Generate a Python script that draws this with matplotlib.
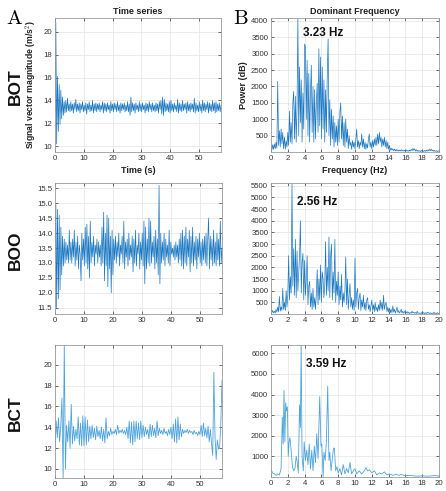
import numpy as np
import matplotlib
matplotlib.use("Agg")
import matplotlib.pyplot as plt

plt.rcParams['font.family'] = ['Liberation Sans', 'DejaVu Sans']
plt.rcParams['mathtext.fontset'] = 'cm'

# ---------------- data ----------------
row_labels = ["BOT", "BOO", "BCT"]
peak_labels = ["3.23 Hz", "2.56 Hz", "3.59 Hz"]

bot_time_vals = [
    13.0, 20.8, 10.2, 16.1, 11.3, 15.4, 11.9, 14.9, 12.4, 14.3, 12.7, 13.9, 12.9, 14.0, 13.0, 14.2, 13.1, 13.7, 13.0, 13.9,
    13.1, 13.7, 12.9, 13.8, 13.2, 14.1, 13.0, 13.7, 13.1, 13.8, 12.9, 13.7, 13.2, 13.9, 13.0, 13.6, 13.1, 13.8, 12.8, 13.7,
    13.2, 13.9, 13.0, 13.6, 13.1, 14.0, 12.9, 13.7, 13.1, 13.8, 13.0, 13.7, 13.2, 13.8, 13.0, 13.6, 13.2, 13.9, 12.9, 13.8,
    13.1, 13.7, 13.0, 13.8, 13.2, 13.6, 12.9, 13.9, 13.1, 13.7, 13.0, 13.8, 13.2, 13.7, 13.0, 13.9, 13.1, 13.6, 12.9, 13.8,
    13.1, 13.7, 13.2, 13.8, 13.0, 13.6, 13.1, 13.9, 13.0, 13.7, 12.7, 14.3, 13.0, 13.8, 13.1, 13.7, 12.9, 13.8, 13.2, 13.6,
    13.0, 13.9, 13.1, 13.7, 13.0, 13.8, 13.2, 13.6, 12.9, 13.8, 13.1, 13.7, 13.0, 13.9, 13.2, 13.7, 13.0, 13.8, 13.1, 13.6,
    13.0, 13.8, 13.1, 13.7, 12.9, 13.9, 13.2, 14.0, 12.8, 14.3, 12.7, 14.1, 13.0, 13.8, 13.1, 13.7, 13.0, 13.9, 12.9, 14.0,
    13.1, 13.7, 13.0, 13.8, 13.2, 13.6, 13.0, 14.1, 12.9, 13.8, 13.1, 13.7, 13.0, 14.0, 13.1, 13.7, 13.2, 13.8, 12.9, 13.9,
    13.1, 13.7, 13.0, 13.8, 13.2, 13.7, 13.0, 14.2, 12.9, 13.8, 13.1, 13.6, 13.0, 13.9, 13.1, 13.7, 12.9, 14.0, 13.1, 13.8,
    13.0, 13.7, 13.2, 13.9, 12.9, 13.8, 13.1, 13.7, 13.0, 14.0, 13.1, 13.8, 12.9, 13.9, 13.0, 13.7, 13.1, 13.8, 13.0, 13.6,
]

boo_time_vals = [
    13.2, 15.0, 11.5, 14.8, 11.8, 14.6, 12.1, 14.2, 12.6, 13.9, 12.9, 13.8, 13.0, 13.7, 13.1, 13.6, 13.0, 14.1, 13.1, 13.7,
    13.0, 13.8, 13.2, 14.1, 12.9, 13.7, 13.1, 13.9, 12.8, 13.6, 13.3, 12.4, 14.0, 13.1, 13.8, 12.9, 14.2, 13.0, 14.3, 12.8,
    13.9, 12.5, 14.4, 13.0, 13.7, 13.2, 13.9, 12.9, 13.6, 13.3, 13.8, 13.0, 13.7, 13.2, 13.6, 12.9, 14.2, 13.0, 14.7, 12.4,
    14.0, 12.9, 14.6, 12.2, 14.5, 12.8, 13.9, 12.0, 14.1, 12.6, 13.8, 13.1, 13.9, 13.0, 13.7, 13.2, 14.0, 12.9, 13.6, 13.3,
    13.9, 13.0, 14.4, 12.8, 13.7, 13.2, 13.8, 12.9, 14.0, 13.1, 13.6, 13.2, 13.9, 12.7, 13.8, 13.0, 14.1, 12.9, 13.6, 13.3,
    14.0, 12.8, 13.7, 13.1, 14.0, 12.9, 14.4, 12.3, 14.2, 12.8, 13.8, 13.0, 14.5, 12.9, 14.4, 13.0, 13.7, 13.2, 13.9, 12.8,
    14.1, 13.0, 13.8, 12.6, 15.6, 12.3, 14.0, 13.0, 13.7, 13.1, 14.0, 12.9, 13.8, 13.2, 13.6, 13.0, 14.1, 12.9, 13.7, 13.3,
    13.5, 13.2, 13.6, 13.1, 13.7, 13.2, 13.6, 13.0, 13.8, 13.1, 14.0, 12.9, 14.1, 12.8, 13.9, 13.0, 14.2, 12.9, 13.8, 13.2,
    14.1, 12.7, 13.9, 13.0, 14.2, 12.9, 13.7, 13.1, 13.9, 12.8, 13.8, 13.2, 14.0, 13.0, 13.7, 12.9, 13.8, 13.1, 13.9, 13.0,
    14.0, 12.9, 13.8, 14.5, 12.8, 13.9, 13.1, 13.8, 12.9, 14.1, 13.0, 13.7, 12.9, 14.0, 13.1, 13.8, 12.9, 14.4, 13.0, 13.5,
]

bct_time_vals = [
    12.1, 14.6, 13.0, 14.9, 12.6, 14.2, 16.8, 9.1, 21.9, 10.0,
    14.2, 12.6, 14.6, 12.0, 16.2, 12.4, 14.1, 12.7, 13.8, 12.9,
    15.0, 12.3, 14.4, 12.2, 15.1, 12.2, 15.0, 12.3, 14.7, 12.6,
    14.1, 12.9, 14.2, 13.0, 13.9, 12.8, 14.1, 13.1, 13.7, 12.9,
    14.0, 12.7, 13.8, 12.5, 14.9, 12.9, 13.6, 13.2, 13.9, 13.3,
    13.6, 13.4, 13.8, 13.3, 14.2, 13.4, 13.7, 13.5, 13.8, 13.4,
    13.7, 13.3, 14.0, 12.9, 14.6, 12.5, 14.5, 12.3, 14.6, 12.6,
    14.6, 12.9, 14.4, 12.8, 14.6, 13.0, 14.2, 13.1, 14.0, 13.3,
    13.8, 12.9, 14.3, 13.1, 14.2, 13.2, 13.9, 13.0, 14.6, 13.2,
    13.9, 13.4, 13.7, 13.3, 13.9, 13.4, 13.6, 13.2, 13.8, 13.3,
    14.0, 12.9, 14.3, 12.6, 14.8, 12.5, 15.0, 12.8, 14.3, 13.1,
    13.8, 13.4, 13.7, 13.5, 13.8, 13.4, 13.7, 13.5, 13.6, 13.3,
    13.7, 13.4, 13.5, 13.2, 13.6, 13.3, 14.2, 13.1, 14.4, 13.2,
    13.9, 13.0, 14.1, 12.6, 13.8, 12.4, 11.3, 19.3, 13.0, 10.9,
    12.8, 11.9, 12.1, 14.5, 18.5,
]

bot_power = [
    150, 60, 220, 80, 250, 100, 300, 120, 2150, 200,
    650, 150, 700, 250, 600, 100, 450, 80, 350, 150,
    600, 200, 1250, 300, 900, 250, 1500, 1850, 400, 1700,
    300, 1400, 4050, 500, 2600, 900, 2200, 300, 1800, 700,
    3300, 3200, 1000, 2800, 500, 2400, 300, 1800, 2650, 600,
    2000, 300, 1900, 400, 1500, 2100, 600, 3150, 800, 2900,
    400, 2600, 700, 2200, 300, 1900, 600, 2400, 3450, 500,
    1600, 200, 1300, 400, 1100, 150, 900, 300, 800, 200,
    1000, 300, 1200, 1500, 400, 1100, 200, 900, 150, 1000,
    300, 700, 100, 500, 200, 300, 80, 350, 150, 300,
    100, 400, 700, 150, 350, 100, 300, 200, 550, 150,
    400, 100, 300, 80, 250, 120, 400, 550, 150, 300,
    100, 350, 150, 400, 200, 450, 200, 550, 250, 600,
    300, 450, 150, 400, 200, 450, 150, 350, 100, 300,
    80, 200, 60, 120, 50, 100, 40, 90, 30, 80,
    30, 70, 25, 60, 30, 70, 25, 60, 30, 50,
    20, 60, 25, 50, 20, 60, 30, 80, 40, 110,
    50, 100, 30, 70, 20, 50, 20, 40, 15, 50,
    20, 40, 15, 50, 20, 60, 25, 70, 30, 90,
    40, 80, 30, 60, 20, 50, 20, 40, 15, 40,
    20,
]

boo_power = [
    900, 60, 150, 50, 120, 40, 200, 80, 300, 100,
    750, 120, 300, 150, 1100, 200, 500, 150, 1000, 300,
    800, 2500, 600, 1600, 900, 5600, 1200, 2800, 800, 3200,
    700, 2700, 1000, 1800, 2500, 4000, 900, 2200, 2600, 600,
    2300, 800, 1500, 2500, 400, 1200, 1400, 300, 900, 200,
    1100, 300, 700, 200, 900, 1900, 400, 1500, 600, 2100,
    500, 1800, 1500, 700, 1200, 3100, 800, 2000, 1000, 3300,
    700, 2500, 3000, 600, 1800, 900, 3200, 500, 1400, 800,
    1800, 400, 1200, 600, 1700, 300, 900, 500, 1000, 2450,
    400, 1500, 200, 800, 1300, 300, 700, 200, 600, 150,
    2400, 300, 900, 1100, 200, 700, 900, 150, 600, 300,
    800, 200, 500, 150, 600, 700, 200, 400, 100, 350,
    600, 150, 400, 100, 500, 150, 300, 100, 400, 150,
    600, 200, 500, 150, 800, 200, 400, 500, 100, 300,
    80, 250, 60, 200, 50, 350, 80, 200, 40, 150,
    300, 60, 150, 40, 100, 200, 50, 120, 30, 100,
    150, 40, 100, 30, 80, 20, 60, 30, 120, 40,
    80, 30, 60, 20, 120, 30, 50, 20, 40, 20,
    100, 30, 60, 20, 50, 20, 80, 30, 60, 20,
    50, 20, 40, 15, 80, 20, 40, 15, 60, 20,
    30,
]

bct_freq = [0.0, 0.2, 0.4, 0.6, 0.8, 1.0, 1.2, 1.35, 1.45, 1.55, 1.65, 1.75, 1.85, 1.95,
            2.05, 2.15, 2.25, 2.4, 2.55, 2.7, 2.85, 3.0, 3.1, 3.25, 3.4, 3.5, 3.59, 3.7,
            3.85, 3.95, 4.1, 4.25, 4.4, 4.55, 4.7, 4.85, 5.0, 5.15, 5.3, 5.45, 5.6, 5.8,
            5.95, 6.05, 6.2, 6.3, 6.45, 6.6, 6.75, 6.9, 7.0, 7.15, 7.3, 7.45, 7.55, 7.7,
            7.85, 8.0, 8.2, 8.4, 8.6, 8.8, 9.0, 9.2, 9.4, 9.6, 9.8, 10.0, 10.2, 10.5,
            10.8, 11.1, 11.3, 11.5, 11.7, 12.0, 12.3, 12.6, 12.9, 13.2, 13.5, 13.8, 14.1,
            14.5, 14.9, 15.2, 15.5, 16.0, 16.5, 17.0, 17.5, 18.0, 18.5, 19.0, 19.5, 20.0]
bct_power = [350, 200, 150, 80, 150, 100, 400, 2900, 1600, 4200, 1700, 3600, 3200, 3400,
             1000, 1700, 1900, 1300, 500, 300, 400, 1000, 800, 200, 3500, 2400, 6400, 1000,
             300, 1700, 800, 1300, 600, 1600, 400, 1300, 300, 1500, 700, 2100, 900, 3900,
             1500, 1600, 0, 1200, 800, 1800, 4400, 800, 1200, 300, 900, 1400, 1400, 300,
             500, 200, 400, 100, 600, 150, 400, 200, 700, 150, 300, 400, 150, 300,
             150, 300, 450, 300, 350, 200, 300, 100, 200, 150, 250, 100, 150,
             80, 130, 80, 120, 60, 80, 50, 40, 60, 40, 50, 70, 40]

peak_freqs = [3.23, 2.56, 3.59]

# ---------------- figure ----------------
W, H = 446, 491
fig = plt.figure(figsize=(W / 100, H / 100), dpi=100)

def ax_at(l, t, r, b):
    return fig.add_axes([l / W, 1 - b / H, (r - l) / W, (b - t) / H])

tick_color = '#333333'
spine_color = '#9a9a9a'
line_dense = '#1a78c2'
line_light = '#4ca3dd'
sans = ['Liberation Sans', 'DejaVu Sans']

def style(ax):
    ax.tick_params(direction='in', length=2, width=0.5, labelsize=5.6,
                   colors=tick_color, pad=2, top=True, right=True)
    for s in ax.spines.values():
        s.set_color(spine_color)
        s.set_linewidth(0.6)
    ax.grid(True, color='#e3e3e3', linewidth=0.5)
    ax.set_axisbelow(True)

boxes_t = [(55, 18, 221, 152), (55, 183, 222, 314), (55, 345, 222, 478)]
boxes_f = [(271, 18, 439, 152), (271, 183, 439, 314), (271, 345, 439, 477)]

time_series = [bot_time_vals, boo_time_vals, bct_time_vals]
ylims_t = [(9.5, 21.2), (11.29, 15.68), (9.13, 21.9)]
yticks_t = [np.arange(10, 21, 2), np.arange(11.5, 15.51, 0.5), np.arange(10, 21, 2)]

spec_x = [np.arange(len(bot_power)) * 0.1, np.arange(len(boo_power)) * 0.1, np.array(bct_freq)]
spec_y = [bot_power, boo_power, bct_power]
ylims_f = [(0, 4090), (0, 5615), (0, 6400)]
yticks_f = [np.arange(500, 4001, 500), np.arange(500, 5501, 500), np.arange(1000, 6001, 1000)]
label_y = [3640, 4800, 5490]

for i in range(3):
    # time series
    ax = ax_at(*boxes_t[i])
    vals = time_series[i]
    t = np.linspace(0, 57.6, len(vals))
    col = line_light if i == 2 else line_dense
    ax.plot(t, vals, color=col, linewidth=0.5 if i < 2 else 0.6)
    ax.set_xlim(0, 57.6)
    ax.set_ylim(*ylims_t[i])
    ax.set_xticks(np.arange(0, 51, 10))
    ax.set_yticks(yticks_t[i])
    if i == 1:
        ax.set_yticklabels([f"{v:.1f}" for v in yticks_t[i]])
    style(ax)
    if i == 0:
        ax.set_title("Time series", fontsize=6.5, fontweight='bold', pad=3, color='#222222')
        ax.set_ylabel("Signal vector magnitude (m/s$^2$)", fontsize=6.2, fontweight='bold',
                      labelpad=3, color='#222222')
        ax.set_xlabel("Time (s)", fontsize=6.5, fontweight='bold', labelpad=3, color='#222222')
    cy = (boxes_t[i][1] + boxes_t[i][3]) / 2 + 2
    fig.text(15 / W, 1 - cy / H, row_labels[i], rotation=90, fontsize=12.5,
             fontweight='bold', family=sans, ha='center', va='center', color='#111111')

    # spectrum
    ax2 = ax_at(*boxes_f[i])
    ax2.plot(spec_x[i], spec_y[i], color=col, linewidth=0.5 if i < 2 else 0.6)
    ax2.set_xlim(0, 20)
    ax2.set_ylim(*ylims_f[i])
    ax2.set_xticks(np.arange(0, 21, 2))
    ax2.set_yticks(yticks_f[i])
    style(ax2)
    ax2.text(peak_freqs[i] + 0.55, label_y[i], peak_labels[i], fontsize=8.5,
             fontweight='bold', family=sans, ha='left', va='center', color='#111111')
    if i == 0:
        ax2.set_title("Dominant Frequency", fontsize=6.5, fontweight='bold', pad=3, color='#222222')
        ax2.set_ylabel("Power (dB)", fontsize=6.5, fontweight='bold', labelpad=2, color='#222222')
        ax2.set_xlabel("Frequency (Hz)", fontsize=6.5, fontweight='bold', labelpad=3, color='#222222')

fig.text(14 / W, 1 - 18 / H, r"$\mathrm{A}$", fontsize=15, ha='center', va='center')
fig.text(241 / W, 1 - 18 / H, r"$\mathrm{B}$", fontsize=15, ha='center', va='center')

fig.savefig("out.png", dpi=100, facecolor='white')
